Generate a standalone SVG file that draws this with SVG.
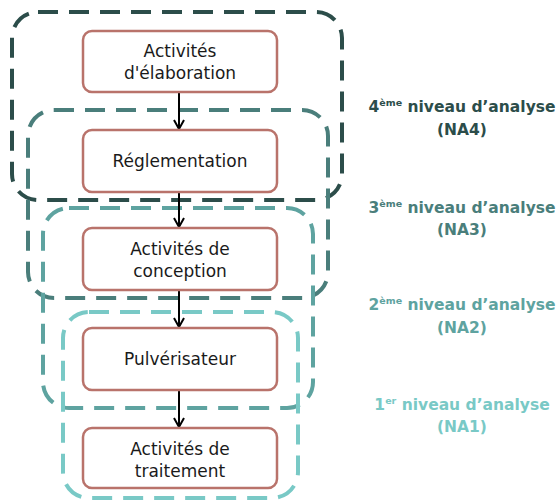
<svg xmlns="http://www.w3.org/2000/svg" width="560" height="502" viewBox="0 0 560 502">
<defs>
<style>
.node rect{fill:#ffffff;stroke:#b9736b;stroke-width:2.5}
.node text{font-family:"DejaVu Sans","Liberation Sans",sans-serif;font-size:17px;fill:#1a1a1a;text-anchor:middle}
.grp{fill:none;stroke-width:4;stroke-dasharray:20 11}
.na4{stroke:#2c4d4a}
.na3{stroke:#4a7e7b}
.na2{stroke:#5ea3a0}
.na1{stroke:#79c9c6}
.lbl{font-family:"DejaVu Sans","Liberation Sans",sans-serif;font-size:15.5px;font-weight:bold;text-anchor:middle}
.sup{font-size:9.5px}
.conn line{stroke:#000;stroke-width:2}
</style>
<marker id="arr" viewBox="0 0 12 12" refX="11" refY="6" markerWidth="12" markerHeight="12" markerUnits="userSpaceOnUse" orient="auto">
<path d="M2,1 L11,6 L2,11" fill="none" stroke="#000" stroke-width="2"/>
</marker>
</defs>
<rect width="560" height="502" fill="#ffffff"/>
<g id="groups">
<rect id="NA4" class="grp na4" x="12" y="12" width="330" height="188" rx="26"/>
<rect id="NA3" class="grp na3" x="28" y="110" width="300" height="188" rx="26"/>
<rect id="NA2" class="grp na2" x="43" y="208" width="270" height="200" rx="26"/>
<rect id="NA1" class="grp na1" x="63" y="312" width="235" height="186" rx="26"/>
</g>
<g id="connectors" class="conn">
<line x1="179" y1="92" x2="179" y2="129" marker-end="url(#arr)"/>
<line x1="179" y1="192" x2="179" y2="227" marker-end="url(#arr)"/>
<line x1="179" y1="290" x2="179" y2="327" marker-end="url(#arr)"/>
<line x1="179" y1="390" x2="179" y2="427" marker-end="url(#arr)"/>
</g>
<g id="n1" class="node"><rect x="83" y="31" width="194" height="61" rx="9"/><text x="180" y="57">Activités</text><text x="180" y="79">d'élaboration</text></g>
<g id="n2" class="node"><rect x="83" y="130" width="194" height="62" rx="9"/><text x="180" y="167">Réglementation</text></g>
<g id="n3" class="node"><rect x="83" y="228" width="194" height="62" rx="9"/><text x="180" y="255">Activités de</text><text x="180" y="277">conception</text></g>
<g id="n4" class="node"><rect x="83" y="328" width="194" height="62" rx="9"/><text x="180" y="365">Pulvérisateur</text></g>
<g id="n5" class="node"><rect x="83" y="428" width="194" height="60" rx="9"/><text x="180" y="455">Activités de</text><text x="180" y="477">traitement</text></g>
<g id="labels">
<text class="lbl" fill="#2c4d4a" x="462" y="112">4<tspan class="sup" dy="-6">ème</tspan><tspan dy="6"> niveau d’analyse</tspan></text>
<text class="lbl" fill="#2c4d4a" x="462" y="135">(NA4)</text>
<text class="lbl" fill="#4a7e7b" x="462" y="213">3<tspan class="sup" dy="-6">ème</tspan><tspan dy="6"> niveau d’analyse</tspan></text>
<text class="lbl" fill="#4a7e7b" x="462" y="235">(NA3)</text>
<text class="lbl" fill="#5ea3a0" x="462" y="310">2<tspan class="sup" dy="-6">ème</tspan><tspan dy="6"> niveau d’analyse</tspan></text>
<text class="lbl" fill="#5ea3a0" x="462" y="333">(NA2)</text>
<text class="lbl" fill="#79c9c6" x="462" y="410">1<tspan class="sup" dy="-6">er</tspan><tspan dy="6"> niveau d’analyse</tspan></text>
<text class="lbl" fill="#79c9c6" x="462" y="432">(NA1)</text>
</g>
</svg>
